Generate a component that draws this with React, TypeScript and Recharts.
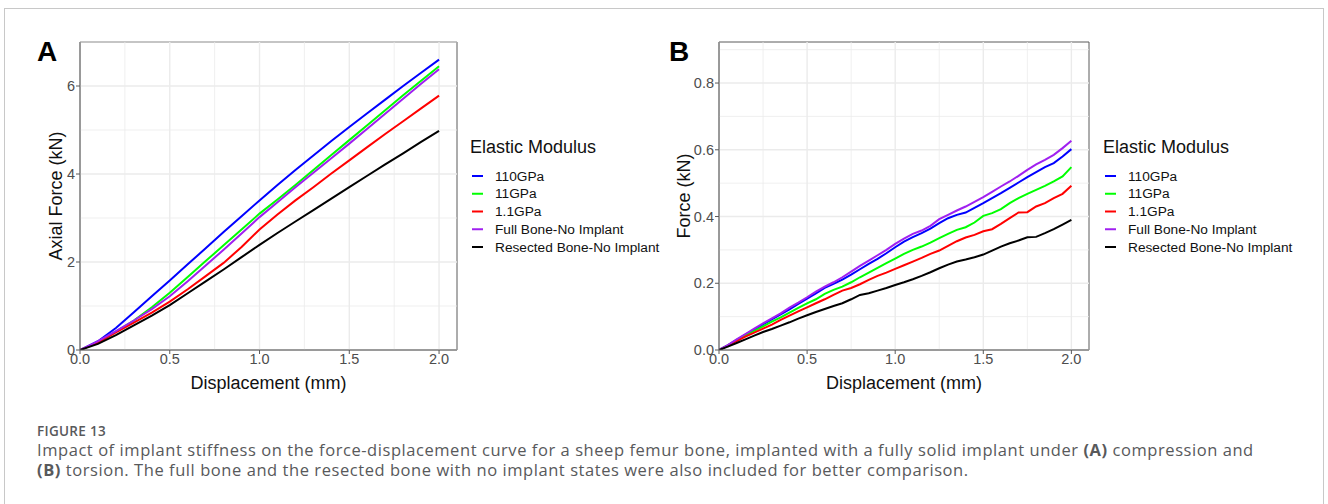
import { LineChart, Line, XAxis, YAxis, ReferenceLine, ReferenceArea } from 'recharts'

const seriesNames = ['110GPa', '11GPa', '1.1GPa', 'Full Bone-No Implant', 'Resected Bone-No Implant']
const seriesColors = ['#0000ff', '#00ff00', '#ff0000', '#a020f0', '#000000']

// panel A: compression
const dispA = [0, 0.1, 0.2, 0.3, 0.4, 0.5, 0.6, 0.7, 0.8, 0.9, 1.0, 1.1, 1.2, 1.3, 1.4, 1.5, 1.6, 1.7, 1.8, 1.9, 2.0]
const a110 = [0, 0.2, 0.5, 0.86, 1.22, 1.58, 1.95, 2.31, 2.68, 3.04, 3.40, 3.75, 4.09, 4.42, 4.75, 5.07, 5.38, 5.69, 6.00, 6.30, 6.60]
const a11 = [0, 0.18, 0.42, 0.67, 0.97, 1.30, 1.66, 2.02, 2.38, 2.74, 3.10, 3.42, 3.75, 4.09, 4.43, 4.77, 5.11, 5.45, 5.79, 6.12, 6.45]
const a1_1 = [0, 0.17, 0.40, 0.62, 0.85, 1.10, 1.38, 1.68, 1.98, 2.34, 2.74, 3.08, 3.40, 3.70, 4.01, 4.31, 4.61, 4.91, 5.20, 5.49, 5.78]
const aFull = [0, 0.2, 0.43, 0.67, 0.93, 1.22, 1.56, 1.92, 2.28, 2.65, 3.02, 3.36, 3.70, 4.03, 4.36, 4.69, 5.03, 5.37, 5.71, 6.05, 6.38]
const aResected = [0, 0.14, 0.34, 0.56, 0.78, 1.02, 1.29, 1.56, 1.83, 2.11, 2.39, 2.66, 2.92, 3.18, 3.44, 3.70, 3.96, 4.22, 4.47, 4.73, 4.98]

// panel B: torsion
const dispB = [0, 0.05, 0.1, 0.15, 0.2, 0.25, 0.3, 0.35, 0.4, 0.45, 0.5, 0.55, 0.6, 0.65, 0.7, 0.75, 0.8, 0.85, 0.9, 0.95, 1.0,
  1.05, 1.1, 1.15, 1.2, 1.25, 1.3, 1.35, 1.4, 1.45, 1.5, 1.55, 1.6, 1.65, 1.7, 1.75, 1.8, 1.85, 1.9, 1.95, 2.0]
const b110 = [0, 0.014, 0.030, 0.046, 0.061, 0.077, 0.092, 0.107, 0.122, 0.138, 0.154, 0.170, 0.186, 0.198, 0.211, 0.226, 0.242, 0.258, 0.273, 0.290, 0.308,
  0.325, 0.338, 0.350, 0.364, 0.380, 0.395, 0.405, 0.412, 0.426, 0.440, 0.455, 0.470, 0.486, 0.502, 0.518, 0.533, 0.548, 0.560, 0.580, 0.602]
const b11 = [0, 0.014, 0.030, 0.044, 0.057, 0.071, 0.085, 0.098, 0.112, 0.126, 0.140, 0.152, 0.168, 0.180, 0.190, 0.203, 0.218, 0.232, 0.246, 0.260, 0.274,
  0.288, 0.300, 0.310, 0.322, 0.335, 0.348, 0.360, 0.368, 0.382, 0.402, 0.410, 0.422, 0.440, 0.455, 0.468, 0.480, 0.492, 0.505, 0.520, 0.548]
const b1_1 = [0, 0.013, 0.027, 0.040, 0.052, 0.064, 0.076, 0.090, 0.103, 0.116, 0.128, 0.140, 0.152, 0.165, 0.178, 0.186, 0.197, 0.210, 0.222, 0.232, 0.243,
  0.254, 0.265, 0.276, 0.288, 0.298, 0.312, 0.326, 0.337, 0.345, 0.356, 0.362, 0.378, 0.395, 0.412, 0.413, 0.430, 0.440, 0.455, 0.468, 0.492]
const bFull = [0, 0.015, 0.032, 0.048, 0.064, 0.080, 0.095, 0.110, 0.127, 0.142, 0.158, 0.175, 0.190, 0.203, 0.218, 0.235, 0.252, 0.268, 0.284, 0.300, 0.318,
  0.334, 0.348, 0.358, 0.372, 0.392, 0.405, 0.418, 0.430, 0.444, 0.458, 0.474, 0.490, 0.505, 0.522, 0.540, 0.556, 0.570, 0.585, 0.605, 0.627]
const bResected = [0, 0.010, 0.021, 0.032, 0.043, 0.054, 0.063, 0.073, 0.083, 0.094, 0.104, 0.114, 0.123, 0.132, 0.140, 0.152, 0.165, 0.170, 0.178, 0.186, 0.195,
  0.203, 0.212, 0.222, 0.233, 0.245, 0.256, 0.265, 0.271, 0.278, 0.286, 0.298, 0.310, 0.320, 0.328, 0.338, 0.339, 0.350, 0.362, 0.376, 0.390]

const xTicks = [0, 0.5, 1, 1.5, 2]
const xMinor = [0.25, 0.75, 1.25, 1.75]
const yTicksA = [0, 2, 4, 6]
const yMinorA = [1, 3, 5, 7]
const yTicksB = [0, 0.2, 0.4, 0.6, 0.8]
const yMinorB = [0.1, 0.3, 0.5, 0.7, 0.9]

const FONT = '"Liberation Sans", Arial, sans-serif'
const GRID = '#ebebeb'
const AXIS = '#5a5a5a'

function makeRows(xs: number[], cols: number[][]) {
  return xs.map((x, i) => {
    const row: Record<string, number> = { x }
    cols.forEach((c, j) => { row['s' + j] = c[i] })
    return row
  })
}

const rowsA = makeRows(dispA, [a110, a11, a1_1, aFull, aResected])
const rowsB = makeRows(dispB, [b110, b11, b1_1, bFull, bResected])

interface PanelProps {
  rows: Record<string, number>[]
  left: number
  width: number
  marginLeft: number
  marginRight: number
  yMax: number
  yTicks: number[]
  yMinor: number[]
  yFmt: (v: number) => string
  yTitle: string
  yTitleDx: number
}

function Panel(p: PanelProps) {
  const yTitle = (props: any) => {
    const vb = props.viewBox
    const cx = vb.x + vb.width + p.yTitleDx
    const cy = vb.y + vb.height / 2
    return (
      <text x={cx} y={cy} transform={`rotate(-90 ${cx} ${cy})`} textAnchor="middle" dominantBaseline="central"
        fontSize={18} fontFamily={FONT} fill="#111">{p.yTitle}</text>
    )
  }
  const xTitle = (props: any) => {
    const vb = props.viewBox
    return (
      <text x={vb.x + vb.width / 2} y={vb.y + 33} textAnchor="middle" dominantBaseline="central"
        fontSize={18} fontFamily={FONT} fill="#111">Displacement (mm)</text>
    )
  }
  const tick = { fontSize: 14.5, fill: '#4d4d4d', fontFamily: FONT }
  return (
    <div style={{ position: 'absolute', left: p.left, top: 0 }}>
      <LineChart width={p.width} height={400} data={p.rows}
        margin={{ top: 42, right: p.marginRight, left: p.marginLeft, bottom: 0 }}>
        <XAxis type="number" dataKey="x" domain={[0, 2.1]} ticks={xTicks} interval={0} allowDataOverflow
          tickFormatter={(v: number) => v.toFixed(1)} tick={tick} tickSize={4} tickMargin={0}
          tickLine={{ stroke: AXIS }} axisLine={{ stroke: AXIS }} height={50} label={xTitle} />
        <YAxis type="number" domain={[0, p.yMax]} ticks={p.yTicks} interval={0} allowDataOverflow
          tickFormatter={p.yFmt} tick={tick} tickSize={4} tickMargin={1}
          tickLine={{ stroke: AXIS }} axisLine={{ stroke: AXIS }} width={30} label={yTitle} />
        {p.yMinor.map(v => <ReferenceLine key={'ym' + v} y={v} stroke={GRID} strokeWidth={0.8} />)}
        {xMinor.map(v => <ReferenceLine key={'xm' + v} x={v} stroke={GRID} strokeWidth={0.8} />)}
        {p.yTicks.map(v => <ReferenceLine key={'yM' + v} y={v} stroke={GRID} strokeWidth={1.4} />)}
        {xTicks.map(v => <ReferenceLine key={'xM' + v} x={v} stroke={GRID} strokeWidth={1.4} />)}
        <ReferenceArea x1={0} x2={2.1} y1={0} y2={p.yMax} fill="none" stroke={AXIS} strokeWidth={1} />
        {seriesNames.map((n, j) => (
          <Line key={n} dataKey={'s' + j} name={n} stroke={seriesColors[j]} strokeWidth={2}
            dot={false} type="linear" isAnimationActive={false} />
        ))}
      </LineChart>
    </div>
  )
}

function LegendBox({ left }: { left: number }) {
  return (
    <svg width={240} height={140} style={{ position: 'absolute', left, top: 120 }}>
      <text x={0} y={33} fontSize={18} fontFamily={FONT} fill="#111">Elastic Modulus</text>
      {seriesNames.map((n, j) => (
        <g key={n}>
          <line x1={2} x2={13} y1={56 + j * 17.75} y2={56 + j * 17.75} stroke={seriesColors[j]} strokeWidth={2} />
          <text x={25} y={56 + j * 17.75} dominantBaseline="central" fontSize={13.7} fontFamily={FONT} fill="#111">{n}</text>
        </g>
      ))}
    </svg>
  )
}

export default function App() {
  return (
    <div style={{ position: 'absolute', left: 0, top: 0, width: 1328, height: 504, overflow: 'hidden', background: '#fff' }}>
      <div style={{ position: 'absolute', left: 4, top: 8, width: 1318, height: 520, border: '1px solid #c8c8c8' }} />
      <Panel rows={rowsA} left={0} width={470} marginLeft={50} marginRight={13} yMax={7}
        yTicks={yTicksA} yMinor={yMinorA} yFmt={(v) => String(v)} yTitle="Axial Force (kN)" yTitleDx={-24} />
      <Panel rows={rowsB} left={640} width={460} marginLeft={49} marginRight={11} yMax={0.923}
        yTicks={yTicksB} yMinor={yMinorB} yFmt={(v) => v.toFixed(1)} yTitle="Force (kN)" yTitleDx={-35} />
      <LegendBox left={470} />
      <LegendBox left={1103} />
      <div style={{ position: 'absolute', left: 37, top: 36, fontFamily: FONT, fontWeight: 700, fontSize: 28, lineHeight: '32px' }}>A</div>
      <div style={{ position: 'absolute', left: 669, top: 36, fontFamily: FONT, fontWeight: 700, fontSize: 28, lineHeight: '32px' }}>B</div>
      <div style={{ position: 'absolute', left: 37, top: 423, fontFamily: '"Open Sans", sans-serif', color: '#58595b', whiteSpace: 'nowrap' }}>
        <div style={{ fontSize: 13.5, fontWeight: 600, lineHeight: '17px', letterSpacing: 0.3 }}>FIGURE 13</div>
        <div style={{ fontSize: 16.5, lineHeight: '20px', letterSpacing: 0.56 }}>
          Impact of implant stiffness on the force-displacement curve for a sheep femur bone, implanted with a fully solid implant under <b>(A)</b> compression and<br />
          <b>(B)</b> torsion. The full bone and the resected bone with no implant states were also included for better comparison.
        </div>
      </div>
    </div>
  )
}
